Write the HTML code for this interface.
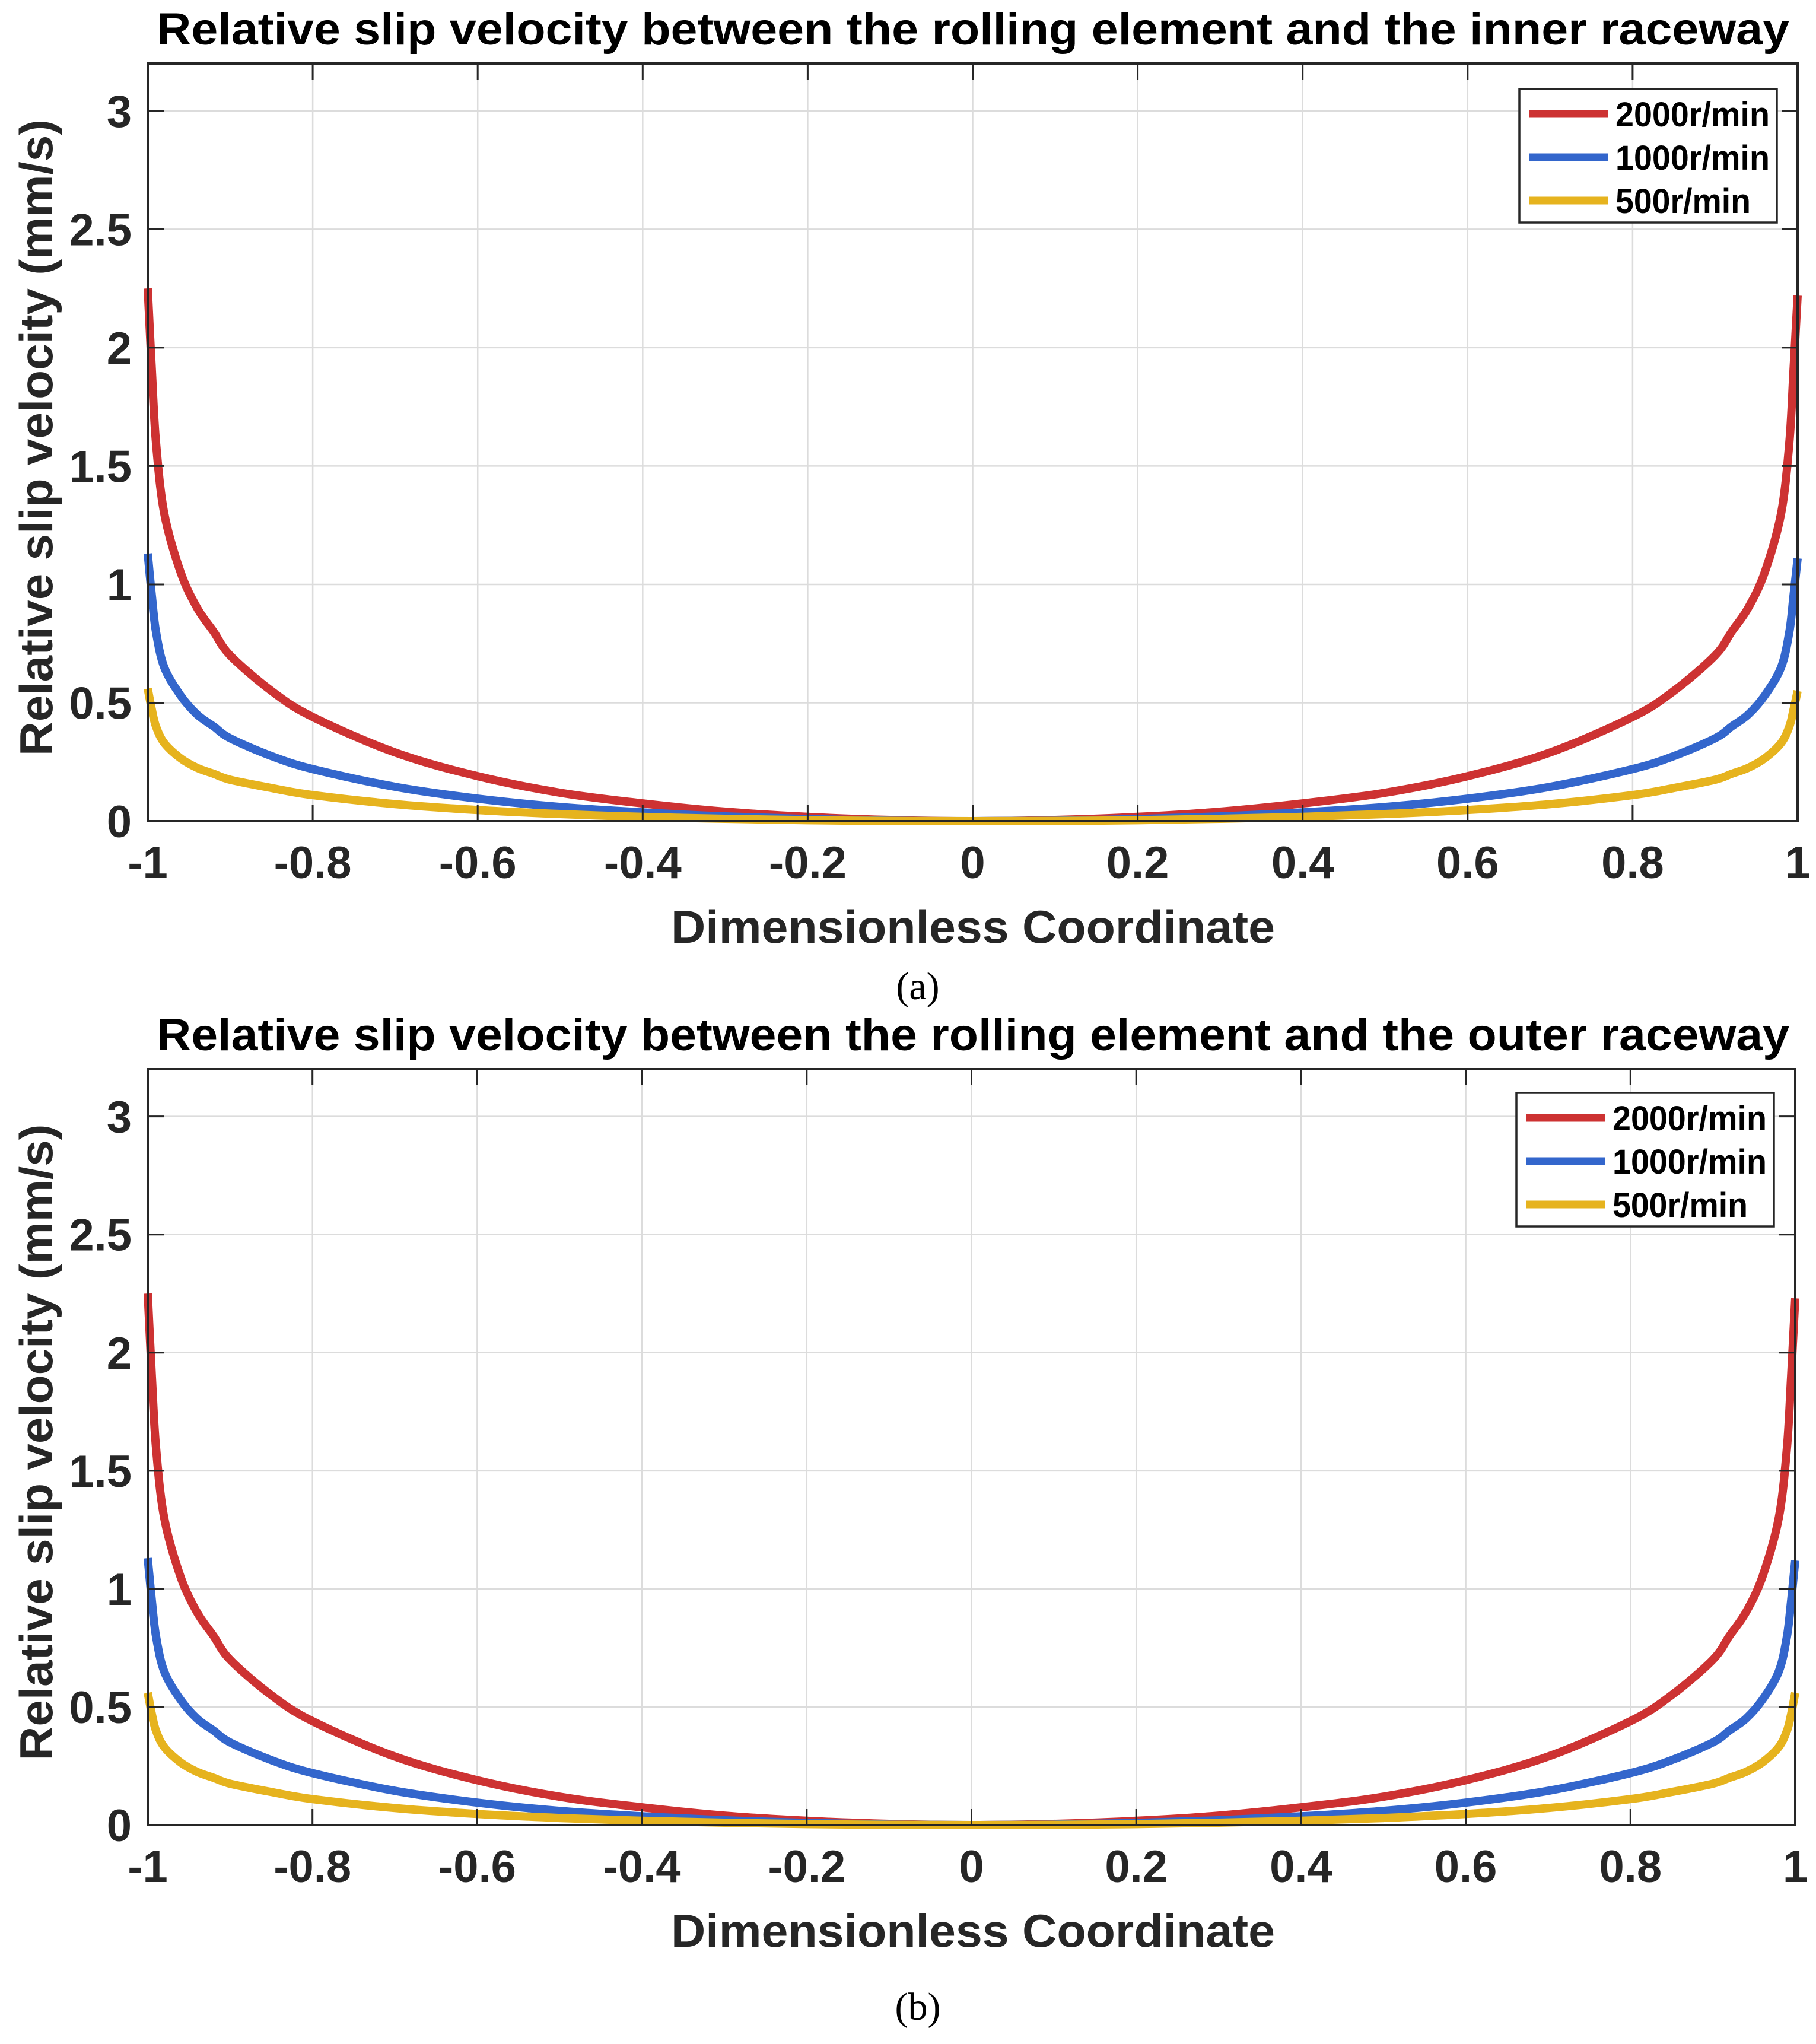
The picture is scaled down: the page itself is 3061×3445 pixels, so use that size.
<!DOCTYPE html>
<html><head><meta charset="utf-8"><style>
html,body{margin:0;padding:0;background:#fff;}
svg{display:block;font-family:"Liberation Sans Narrow","Liberation Sans",sans-serif;font-weight:bold;}
</style></head><body>
<svg id="fig" width="3061" height="3445" viewBox="0 0 3061 3445" xmlns="http://www.w3.org/2000/svg"></svg>
<script>
const xValues = [-1,-0.995,-0.99,-0.98,-0.96,-0.94,-0.92,-0.9,-0.85,-0.8,-0.7,-0.6,-0.5,-0.4,-0.3,-0.2,-0.1,0,0.1,0.2,0.3,0.4,0.5,0.6,0.7,0.8,0.85,0.9,0.92,0.94,0.96,0.98,0.99,0.995,1];
const innerRed = [2.25,1.9,1.6,1.3,1.05,0.9,0.8,0.7,0.55,0.44,0.29,0.19,0.12,0.075,0.04,0.018,0.005,0,0.005,0.018,0.04,0.075,0.12,0.19,0.29,0.44,0.55,0.7,0.8,0.9,1.05,1.3,1.6,1.9,2.22];
const innerBlue = [1.13,0.95,0.8,0.65,0.53,0.45,0.4,0.35,0.275,0.22,0.145,0.095,0.06,0.037,0.02,0.009,0.002,0,0.002,0.009,0.02,0.037,0.06,0.095,0.145,0.22,0.275,0.35,0.4,0.45,0.53,0.65,0.8,0.95,1.11];
const innerYellow = [0.56,0.47,0.4,0.33,0.265,0.225,0.2,0.175,0.14,0.11,0.072,0.047,0.03,0.018,0.01,0.004,0.001,0,0.001,0.004,0.01,0.018,0.03,0.047,0.072,0.11,0.14,0.175,0.2,0.225,0.265,0.33,0.4,0.47,0.55];
const outerRed = [2.25,1.9,1.6,1.3,1.05,0.9,0.8,0.7,0.55,0.44,0.29,0.19,0.12,0.075,0.04,0.018,0.005,0,0.005,0.018,0.04,0.075,0.12,0.19,0.29,0.44,0.55,0.7,0.8,0.9,1.05,1.3,1.6,1.9,2.23];
const outerBlue = [1.13,0.95,0.8,0.65,0.53,0.45,0.4,0.35,0.275,0.22,0.145,0.095,0.06,0.037,0.02,0.009,0.002,0,0.002,0.009,0.02,0.037,0.06,0.095,0.145,0.22,0.275,0.35,0.4,0.45,0.53,0.65,0.8,0.95,1.12];
const outerYellow = [0.56,0.47,0.4,0.33,0.265,0.225,0.2,0.175,0.14,0.11,0.072,0.047,0.03,0.018,0.01,0.004,0.001,0,0.001,0.004,0.01,0.018,0.03,0.047,0.072,0.11,0.14,0.175,0.2,0.225,0.265,0.33,0.4,0.47,0.56];
const xTicks = [-1,-0.8,-0.6,-0.4,-0.2,0,0.2,0.4,0.6,0.8,1];
const xTickLabels = ["-1","-0.8","-0.6","-0.4","-0.2","0","0.2","0.4","0.6","0.8","1"];
const yTicks = [0,0.5,1,1.5,2,2.5,3];
const yTickLabels = ["0","0.5","1","1.5","2","2.5","3"];
const seriesNames = ["2000r/min","1000r/min","500r/min"];

const NS="http://www.w3.org/2000/svg";
const svg=document.getElementById('fig');
function mk(tag,attrs,parent){const e=document.createElementNS(NS,tag);for(const k in attrs)e.setAttribute(k,attrs[k]);(parent||svg).appendChild(e);return e;}
const colors=["#CD3232","#3366CC","#E6B31E"];

function smoothPath(pts){
  let d='M'+pts[0][0].toFixed(1)+','+pts[0][1].toFixed(1);
  for(let i=0;i<pts.length-1;i++){
    const p0=pts[Math.max(0,i-1)],p1=pts[i],p2=pts[i+1],p3=pts[Math.min(pts.length-1,i+2)];
    const c1=[p1[0]+(p2[0]-p0[0])/6,p1[1]+(p2[1]-p0[1])/6];
    const c2=[p2[0]-(p3[0]-p1[0])/6,p2[1]-(p3[1]-p1[1])/6];
    d+=' C'+c1[0].toFixed(1)+','+c1[1].toFixed(1)+' '+c2[0].toFixed(1)+','+c2[1].toFixed(1)+' '+p2[0].toFixed(1)+','+p2[1].toFixed(1);
  }
  return d;
}

function panel(cfg){
  const g=mk('g',{});
  
  
  const L=249,R=cfg.right,T=cfg.top,B=cfg.bottom;
  const xs=v=>L+(v+1)/2*(R-L);
  const ys=v=>B-v/3.2*(B-T);
  xTicks.forEach(t=>{const l=mk('line',{x1:xs(t),x2:xs(t),y1:T,y2:B,stroke:'#dcdcdc','stroke-width':2.5},g);
    });
  yTicks.forEach(t=>{const l=mk('line',{x1:L,x2:R,y1:ys(t),y2:ys(t),stroke:'#dcdcdc','stroke-width':2.5},g);
    });
  cfg.series.forEach((arr,i)=>{
    const pts=arr.map((v,j)=>[xs(xValues[j]),ys(v)]);
    const p=mk('path',{d:smoothPath(pts),fill:'none',stroke:colors[i],'stroke-width':14,'stroke-linejoin':'round'},g);
    
    
  });
  const box=mk('rect',{x:L,y:T,width:R-L,height:B-T,fill:'none',stroke:'#262626','stroke-width':4},g);
  
  xTicks.forEach((t,i)=>{
    mk('line',{x1:xs(t),x2:xs(t),y1:B,y2:B-27,stroke:'#262626','stroke-width':3},g);
    mk('line',{x1:xs(t),x2:xs(t),y1:T,y2:T+27,stroke:'#262626','stroke-width':3},g);
    const tx=mk('text',{x:xs(t),y:B+96,'font-size':76,'text-anchor':'middle',fill:'#262626'},g);
    tx.textContent=xTickLabels[i];
    
  });
  yTicks.forEach((t,i)=>{
    mk('line',{x1:L,x2:L+27,y1:ys(t),y2:ys(t),stroke:'#262626','stroke-width':3},g);
    mk('line',{x1:R,x2:R-27,y1:ys(t),y2:ys(t),stroke:'#262626','stroke-width':3},g);
    const tx=mk('text',{x:222,y:ys(t)+27,'font-size':76,'text-anchor':'end',fill:'#262626'},g);
    tx.textContent=yTickLabels[i];
    
  });
  const ti=mk('text',{x:1640,y:T-32,'font-size':76,'text-anchor':'middle',fill:'#000',textLength:2752,lengthAdjust:'spacingAndGlyphs','font-family':'Liberation Sans'},g);
  ti.textContent=cfg.title;
  const xt=mk('text',{x:1640,y:B+205,'font-size':78,'text-anchor':'middle',fill:'#262626',textLength:1018,lengthAdjust:'spacingAndGlyphs','font-family':'Liberation Sans'},g);
  xt.textContent='Dimensionless Coordinate';
  const ymid=(T+B)/2-8;
  const yt=mk('text',{x:0,y:0,'font-size':78,'text-anchor':'middle',fill:'#262626',textLength:1073,lengthAdjust:'spacingAndGlyphs','font-family':'Liberation Sans',transform:'translate(88,'+ymid+') rotate(-90)'},g);
  yt.textContent='Relative slip velocity (mm/s)';
  const lg=mk('g',{},g);
  
  mk('rect',{x:cfg.legX,y:cfg.legY,width:434,height:225,fill:'#fff',stroke:'#262626','stroke-width':3.5},lg);
  const legLens=[260,260,228];
  seriesNames.forEach((n,i)=>{
    const cy=cfg.legY+42+i*73;
    mk('line',{x1:cfg.legX+17,x2:cfg.legX+150,y1:cy,y2:cy,stroke:colors[i],'stroke-width':13},lg);
    const t=mk('text',{x:cfg.legX+162,y:cy+21,'font-size':58,fill:'#000',textLength:legLens[i],lengthAdjust:'spacingAndGlyphs'},lg);
    t.textContent=n;
  });
  const cap=mk('text',{x:1547,y:cfg.capY,'font-size':66,'text-anchor':'middle',fill:'#000','font-family':'Liberation Serif','font-weight':'normal'},g);
  cap.textContent=cfg.caption;
}
panel({name:'inner-raceway-chart',right:3030,top:107,bottom:1384,title:'Relative slip velocity between the rolling element and the inner raceway',series:[innerRed,innerBlue,innerYellow],legX:2561,legY:150,caption:'(a)',capY:1684});
panel({name:'outer-raceway-chart',right:3026,top:1802,bottom:3076,title:'Relative slip velocity between the rolling element and the outer raceway',series:[outerRed,outerBlue,outerYellow],legX:2556,legY:1842,caption:'(b)',capY:3404});
</script>
</body></html>
